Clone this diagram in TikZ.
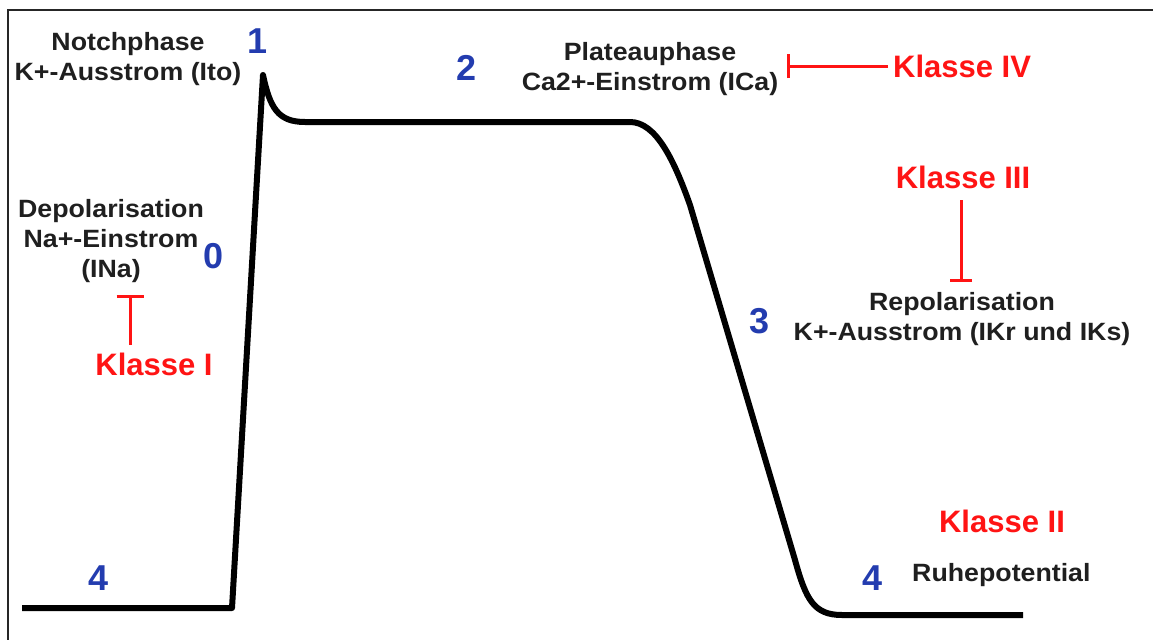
\documentclass[tikz,border=0pt]{standalone}
\usepackage{fontspec}
\setmainfont{Liberation Sans}
\newfontfamily\lblfont[FakeStretch=1.07]{Liberation Sans}
\usetikzlibrary{arrows.meta}
\definecolor{phaseblue}{RGB}{35,60,175}
\definecolor{inhred}{RGB}{255,20,20}
\tikzset{
  lbl/.style={font=\lblfont\bfseries\fontsize{25}{30}\selectfont, text=black!88, inner sep=0pt, align=center},
  klasse/.style={font=\bfseries\fontsize{31}{36}\selectfont, text=inhred, inner sep=0pt},
  phasenum/.style={font=\bfseries\fontsize{36}{40}\selectfont, text=phaseblue, inner sep=0pt},
  inhib/.style={draw=inhred, line width=3pt, -{Bar[width=#1, line width=3pt]}},
  curve/.style={draw=black, line width=6pt, line join=round, line cap=butt},
  frameline/.style={draw=black!85, line width=2pt}
}
\begin{document}
\begin{tikzpicture}[x=1pt,y=-1pt]
\useasboundingbox (0,0) rectangle (1153,640);
% frame (top and left edges)
\coordinate (fTR) at (1153,9.5);
\coordinate (fTL) at (7.5,9.5);
\coordinate (fBL) at (7.5,640);
\draw[frameline] (fTR) -- (fTL) -- (fBL);

% action potential curve
\draw[curve] (22,608) -- (232,608) -- (263,75)
  .. controls (270,108) and (278,122) .. (305,122)
  -- (630,122)
  .. controls (656,122) and (674,160) .. (690,205)
  -- (795,560)
  .. controls (806,600) and (814,615) .. (842,615)
  -- (1023,615);

% phase numbers
\node[phasenum, anchor=base] (p1) at (258,53) {1};
\node[phasenum, anchor=base] (p2) at (467,80) {2};
\node[phasenum, anchor=base] (p0) at (214,268) {0};
\node[phasenum, anchor=base] (p3) at (759,333) {3};
\node[phasenum, anchor=base] (p4a) at (99,590) {4};
\node[phasenum, anchor=base] (p4b) at (872,590) {4};

% black labels (base anchor = baseline of last line)
\node[lbl, anchor=base] (notch) at (128,80) {Notchphase\\K+-Ausstrom (Ito)};
\node[lbl, anchor=base] (plateau) at (650,90) {Plateauphase\\Ca2+-Einstrom (ICa)};
\node[lbl, anchor=base] (depol) at (111,277) {Depolarisation\\Na+-Einstrom\\(INa)};
\node[lbl, anchor=base] (repol) at (962,340) {Repolarisation\\K+-Ausstrom (IKr und IKs)};
\node[lbl, anchor=base west] (ruhe) at (912,581) {Ruhepotential};

% red classes
\node[klasse, anchor=base west] (kIV) at (893,77) {Klasse IV};
\node[klasse, anchor=base] (kIII) at (963,188) {Klasse III};
\node[klasse, anchor=base] (kI) at (154,375) {Klasse I};
\node[klasse, anchor=base] (kII) at (1002,532) {Klasse II};

% inhibition connectors
\coordinate (kIVs) at (888,66);
\coordinate (kIVe) at (787,66);
\draw[inhib=24pt] (kIVs) -- (kIVe);
\coordinate (kIIIs) at (961,200);
\coordinate (kIIIe) at (961,282);
\draw[inhib=22pt] (kIIIs) -- (kIIIe);
\coordinate (kIs) at (130,345);
\coordinate (kIe) at (130,295);
\draw[inhib=27pt] (kIs) -- (kIe);
\end{tikzpicture}
\end{document}
